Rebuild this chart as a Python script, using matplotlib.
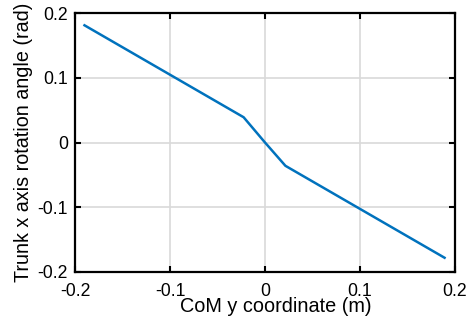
import matplotlib
matplotlib.use("Agg")
import matplotlib.pyplot as plt

com_y = [-0.19, -0.0225, 0.0, 0.0215, 0.189]
trunk_angle = [0.181, 0.039, 0.0, -0.036, -0.178]
xticks = [-0.2, -0.1, 0, 0.1, 0.2]
yticks = [-0.2, -0.1, 0, 0.1, 0.2]
xtick_labels = ["-0.2", "-0.1", "0", "0.1", "0.2"]
ytick_labels = ["-0.2", "-0.1", "0", "0.1", "0.2"]

plt.rcParams['font.family'] = ['Liberation Sans', 'DejaVu Sans']
fig = plt.figure(figsize=(4.76, 3.23), dpi=100)
ax = fig.add_axes([75/476, 51/323, 380/476, 259/323])
ax.plot(com_y, trunk_angle, color='#0072BD', lw=1.8)
ax.set_xlim(-0.2, 0.2)
ax.set_ylim(-0.2, 0.2)
ax.set_xticks(xticks)
ax.set_xticklabels(xtick_labels)
ax.set_yticks(yticks)
ax.set_yticklabels(ytick_labels)
ax.grid(True, color='#d9d9d9', lw=1.2)
ax.set_axisbelow(True)
ax.tick_params(direction='in', top=True, right=True, length=4, width=1.5,
               labelsize=12.7, colors='black', pad=5)
ax.tick_params(axis='x', pad=8)
for s in ax.spines.values():
    s.set_linewidth(1.6)
ax.set_xlabel('CoM y coordinate (m)', fontsize=14.3)
ax.xaxis.set_label_coords((276-75)/380, -0.097)
ax.set_ylabel('Trunk x axis rotation angle (rad)', fontsize=14.2)
ax.yaxis.set_label_coords(-0.11, 0.5)
fig.savefig('out.png', dpi=100)
